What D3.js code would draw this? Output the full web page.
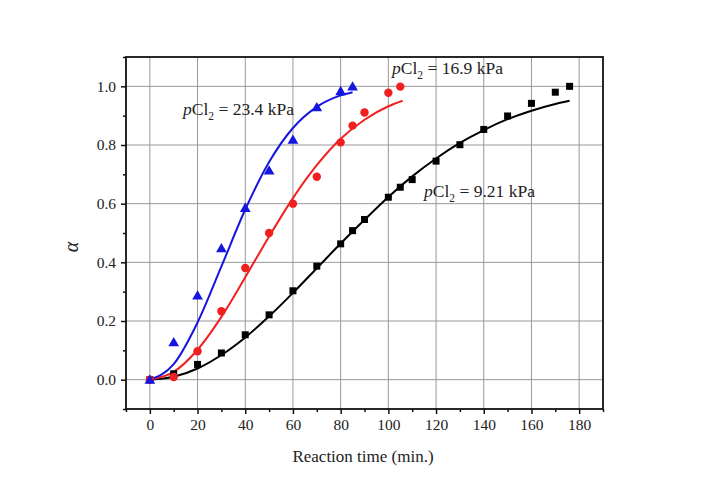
<!DOCTYPE html>
<html><head><meta charset="utf-8">
<script src="https://cdn.jsdelivr.net/npm/d3@7/dist/d3.min.js"></script>
<style>body{margin:0;background:#fff}svg{display:block}text{font-family:"Liberation Serif","Times New Roman",serif;fill:#222}</style>
</head><body><svg id="c" width="701" height="490"></svg>
<script>
// Measured data (time in min, alpha)
const t921 = [0,10,20,30,40,50,60,70,80,85,90,100,105,110,120,130,140,150,160,170,176];
const a921 = [0,0.02,0.052,0.091,0.153,0.221,0.303,0.387,0.463,0.508,0.546,0.622,0.656,0.682,0.745,0.801,0.853,0.899,0.942,0.980,1.0];
const t169 = [0,10,20,30,40,50,60,70,80,85,90,100,105];
const a169 = [0,0.009,0.097,0.233,0.381,0.50,0.600,0.692,0.809,0.866,0.911,0.978,0.999];
const t234 = [0,10,20,30,40,50,60,70,80,85];
const a234 = [0,0.128,0.287,0.448,0.586,0.713,0.818,0.929,0.984,1.0];
// Fitted curves
const ft921 = [0,10,20,30,40,50,60,70,80,90,100,110,120,130,140,150,160,170,176];
const fa921 = [0,0.0097,0.038,0.084,0.144,0.216,0.296,0.380,0.464,0.545,0.623,0.693,0.754,0.807,0.851,0.888,0.917,0.940,0.951];
const ft169 = [0,10,20,30,40,50,60,70,80,90,100,106];
const fa169 = [0,0.0265,0.102,0.214,0.349,0.488,0.619,0.731,0.821,0.886,0.932,0.951];
const ft234 = [0,10,20,30,40,50,60,70,80,85];
const fa234 = [0,0.053,0.195,0.386,0.58,0.742,0.858,0.93,0.969,0.98];
const xTicks = [0,20,40,60,80,100,120,140,160,180];
const yTicks = [0.0,0.2,0.4,0.6,0.8,1.0];
const labels = ["23.4","16.9","9.21"];

const svg = d3.select("#c");
const L=126, R=603, T=57, B=409;
const x = d3.scaleLinear().domain([-10,190]).range([L,R]);
const y = d3.scaleLinear().domain([-0.1,1.1]).range([B,T]);

// grid
const g = svg.append("g");
g.selectAll(".gx").data(xTicks).join("line").attr("x1",d=>x(d)).attr("x2",d=>x(d)).attr("y1",T).attr("y2",B).attr("stroke","#999").attr("stroke-width",1);
g.selectAll(".gy").data(yTicks).join("line").attr("x1",L).attr("x2",R).attr("y1",d=>y(d)).attr("y2",d=>y(d)).attr("stroke","#999").attr("stroke-width",1);

// axes
const xAxis = d3.axisBottom(x).tickValues(xTicks).tickSize(5).tickPadding(5).tickFormat(d3.format("d"));
const xMinor = d3.axisBottom(x).tickValues(d3.range(-10,191,20)).tickSize(3).tickFormat("");
const yAxis = d3.axisLeft(y).tickValues(yTicks).tickSize(5).tickPadding(5).tickFormat(d3.format(".1f"));
const yMinor = d3.axisLeft(y).tickValues([-0.1,0.1,0.3,0.5,0.7,0.9,1.1]).tickSize(3).tickFormat("");
function style(sel){sel.select(".domain").remove();sel.selectAll("line").attr("stroke","#111").attr("stroke-width",1.5);sel.selectAll("text").attr("font-size",15.5).attr("fill","#222").attr("font-family","Liberation Serif");}
svg.append("g").attr("transform",`translate(0,${B})`).call(xAxis).call(style);
svg.append("g").attr("transform",`translate(0,${B})`).call(xMinor).call(style);
svg.append("g").attr("transform",`translate(${L},0)`).call(yAxis).call(style);
svg.append("g").attr("transform",`translate(${L},0)`).call(yMinor).call(style);
svg.append("rect").attr("x",L).attr("y",T).attr("width",R-L).attr("height",B-T).attr("fill","none").attr("stroke","#111").attr("stroke-width",1.8);

// curves
const line = d3.line().x(d=>x(d[0])).y(d=>y(d[1])).curve(d3.curveMonotoneX);
const curves = [[ft921,fa921,"#000"],[ft169,fa169,"#f02020"],[ft234,fa234,"#1515e0"]];
curves.forEach(([tt,aa,c])=>{
  svg.append("path").datum(tt.map((v,i)=>[v,aa[i]])).attr("d",line).attr("fill","none").attr("stroke",c).attr("stroke-width",2);
});

// markers
svg.append("g").selectAll("rect").data(t921.map((v,i)=>[v,a921[i]])).join("rect")
  .attr("x",d=>x(d[0])-3.5).attr("y",d=>y(d[1])-3.5).attr("width",7).attr("height",7).attr("fill","#000");
svg.append("g").selectAll("circle").data(t169.map((v,i)=>[v,a169[i]])).join("circle")
  .attr("cx",d=>x(d[0])).attr("cy",d=>y(d[1])).attr("r",4.2).attr("fill","#f02020");
const tri = d3.symbol().type(d3.symbolTriangle).size(50);
svg.append("g").selectAll("path").data(t234.map((v,i)=>[v,a234[i]])).join("path")
  .attr("transform",d=>`translate(${x(d[0])},${y(d[1])+1})`).attr("d",tri).attr("fill","#1515e0");

// annotations
const ann = [[labels[0],183,115],[labels[1],392,74],[labels[2],424,197]];
ann.forEach(([v,ax,ay])=>{
  const t = svg.append("text").attr("x",ax).attr("y",ay).attr("font-size",17.5);
  t.append("tspan").attr("font-style","italic").text("p");
  t.append("tspan").text("Cl");
  t.append("tspan").attr("font-size",11.5).attr("dy",5).text("2");
  t.append("tspan").attr("dy",-5).text(" = "+v+" kPa");
});

// axis titles
svg.append("text").attr("x",363).attr("y",462).attr("text-anchor","middle").attr("font-size",17).text("Reaction time (min.)");
svg.append("text").attr("transform","translate(78,247) rotate(-90)").attr("text-anchor","middle").attr("font-size",20).attr("font-style","italic").text("α");
</script></body></html>
